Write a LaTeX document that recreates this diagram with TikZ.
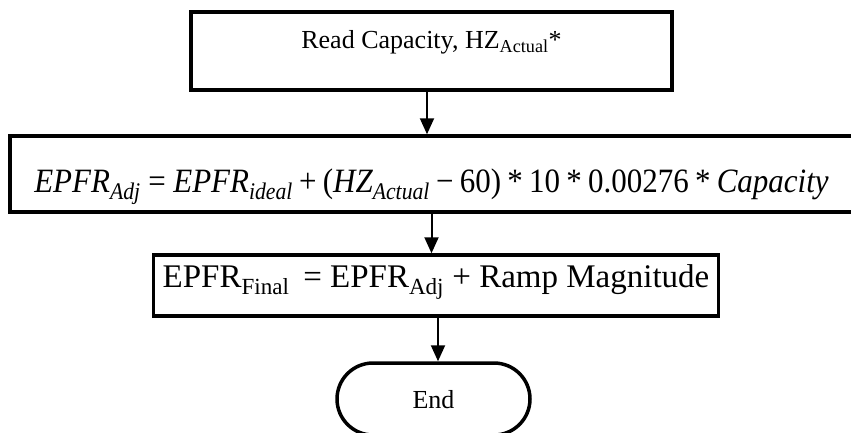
\documentclass[tikz,border=0pt]{standalone}
\usepackage{amsmath}
\usepackage{fontspec}
\setmainfont{Liberation Serif}
\usetikzlibrary{arrows.meta}
\newcommand{\iv}[1]{\text{\itshape #1}}
\newcommand{\uv}[1]{\text{#1}}
\tikzset{
  boxstyle/.style={draw=black, line width=3.5pt, inner sep=0pt, align=center},
  arr/.style={line width=2pt, -{Triangle[width=14pt,length=16pt]}},
}
\begin{document}
\begin{tikzpicture}[x=1pt,y=1pt]
\useasboundingbox (0,0) rectangle (851,-432);
\node[boxstyle, minimum width=481pt, minimum height=78pt, text height=18pt, text depth=24pt,
  font=\fontsize{26}{30}\selectfont] (b1) at (431.5,-51)
  {Read Capacity, HZ\textsubscript{Actual}*};
\node[boxstyle, minimum width=843pt, minimum height=76pt, text height=39pt, text depth=2pt,
  font=\fontsize{31}{36}\selectfont] (b2) at (431.5,-174)
  {\scalebox{1}[1.1]{\medmuskip=4.5mu\thickmuskip=5.5mu$\iv{EPFR}_{\iv{Adj}} \mathrel{\uv{=}} \iv{EPFR}_{\iv{ideal}} \mathbin{\uv{+}} \mathopen{\uv{(}}\iv{HZ}_{\iv{Actual}} \mathbin{\uv{−}} \uv{60}\mathclose{\uv{)}} \mathbin{\uv{*}} \uv{10} \mathbin{\uv{*}} \uv{0.00276} \mathbin{\uv{*}} \iv{Capacity}$}};
\node[boxstyle, inner xsep=9pt, minimum height=61pt, text height=24pt, text depth=21pt,
  font=\fontsize{33}{38}\selectfont] (b3) at (436,-285.5)
  {EPFR\textsubscript{Final}\, = EPFR\textsubscript{Adj} + Ramp Magnitude};
\node[boxstyle, rounded corners=36pt, minimum width=193pt, minimum height=72pt, text height=20pt, text depth=2pt,
  font=\fontsize{26}{30}\selectfont] (e) at (433.5,-399) {End};
\draw[arr] ([xshift=-4.5pt]b1.south) -- ([xshift=-4.5pt]b1.south |- b2.north);
\draw[arr] (b2.south) -- (b2.south |- b3.north);
\draw[arr] ([xshift=2pt]b3.south) -- ([xshift=2pt]b3.south |- e.north);
\end{tikzpicture}
\end{document}
